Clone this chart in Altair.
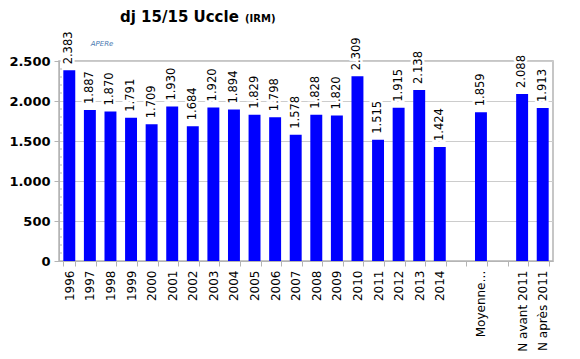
import altair as alt
import pandas as pd

# x slots (blank slots start with "_")
categories = ["1996", "1997", "1998", "1999", "2000", "2001", "2002", "2003", "2004",
              "2005", "2006", "2007", "2008", "2009", "2010", "2011", "2012", "2013",
              "2014", "_a", "Moyenne…", "_b", "N avant 2011", "N après 2011"]
bar_cats = ["1996", "1997", "1998", "1999", "2000", "2001", "2002", "2003", "2004",
            "2005", "2006", "2007", "2008", "2009", "2010", "2011", "2012", "2013",
            "2014", "Moyenne…", "N avant 2011", "N après 2011"]
bar_values = [2383, 1887, 1870, 1791, 1709, 1930, 1684, 1920, 1894, 1829, 1798, 1578,
              1828, 1820, 2309, 1515, 1915, 2138, 1424, 1859, 2088, 1913]
y_ticks = [0, 500, 1000, 1500, 2000, 2500]
minor_ticks = [100, 200, 300, 400, 600, 700, 800, 900, 1100, 1200, 1300, 1400,
               1600, 1700, 1800, 1900, 2100, 2200, 2300, 2400]
title_main = "dj 15/15 Uccle"
title_sub = "(IRM)"
logo = "APERe"

FONT = "DejaVu Sans"
GRAY = "#b4b4b4"

df = pd.DataFrame({"cat": bar_cats, "v": bar_values})
num_fmt = "replace(format(datum.v, ','), ',', '.')"

x_axis = alt.Axis(title=None, labelAngle=-90, labelAlign="right",
                  labelBaseline="middle", labelFontSize=12, labelFont=FONT,
                  labelColor="black", tickColor=GRAY, domainColor=GRAY,
                  tickSize=5, labelPadding=4, tickBand="extent",
                  labelOverlap=False,
                  labelExpr="slice(datum.label,0,1) == '_' ? '' : datum.label")
y_axis = alt.Axis(title=None, values=y_ticks, labelFont=FONT, labelFontSize=13,
                  labelFontWeight="bold", labelColor="black", grid=True,
                  gridColor="#cccccc", domainColor=GRAY, tickColor=GRAY,
                  tickSize=5, labelPadding=4, labelOverlap=False,
                  labelExpr="replace(format(datum.value, ','), ',', '.')")
x = alt.X("cat:N", sort=categories,
          scale=alt.Scale(domain=categories, paddingInner=0.42, paddingOuter=0.21),
          axis=x_axis)
y = alt.Y("v:Q", scale=alt.Scale(domain=[0, 2500], nice=False), axis=y_axis)

base = alt.Chart(df)
bars = base.mark_bar(color="#0000ff").encode(x=x, y=y)

halo = base.transform_calculate(lab=num_fmt).mark_text(
    angle=270, align="left", baseline="middle", dx=6, fontSize=11.5, font=FONT,
    fill="white", stroke="white", strokeWidth=5
).encode(x=x, y=y, text="lab:N")

labels = base.transform_calculate(lab=num_fmt).mark_text(
    angle=270, align="left", baseline="middle", dx=6, fontSize=11.5, font=FONT,
    color="black"
).encode(x=x, y=y, text="lab:N")

minor = alt.Chart(pd.DataFrame({"v": minor_ticks})).mark_rule(color=GRAY).encode(
    y=y, x=alt.value(0), x2=alt.value(3))

t1 = alt.Chart(pd.DataFrame({"t": [title_main]})).mark_text(
    align="left", baseline="alphabetic", fontSize=15, fontWeight="bold", font=FONT,
    color="black").encode(x=alt.value(61), y=alt.value(-39), text="t:N")
t2 = alt.Chart(pd.DataFrame({"t": [title_sub]})).mark_text(
    align="left", baseline="alphabetic", fontSize=10, fontWeight="bold", font=FONT,
    color="black").encode(x=alt.value(186), y=alt.value(-39), text="t:N")
lg = alt.Chart(pd.DataFrame({"t": [logo]})).mark_text(
    align="center", baseline="middle", fontSize=7, fontStyle="italic", font=FONT,
    color="#4a78b0").encode(x=alt.value(43), y=alt.value(-17), text="t:N")

chart = alt.layer(bars, halo, labels, minor, t1, t2, lg).properties(
    width=494, height=200,
    autosize=alt.AutoSizeParams(type="none"),
    padding={"left": 51, "top": 53, "right": 19, "bottom": 90},
).configure_view(stroke=GRAY, strokeWidth=1.5)

chart.save("out.html", embed_options={"renderer": "svg", "actions": False})
